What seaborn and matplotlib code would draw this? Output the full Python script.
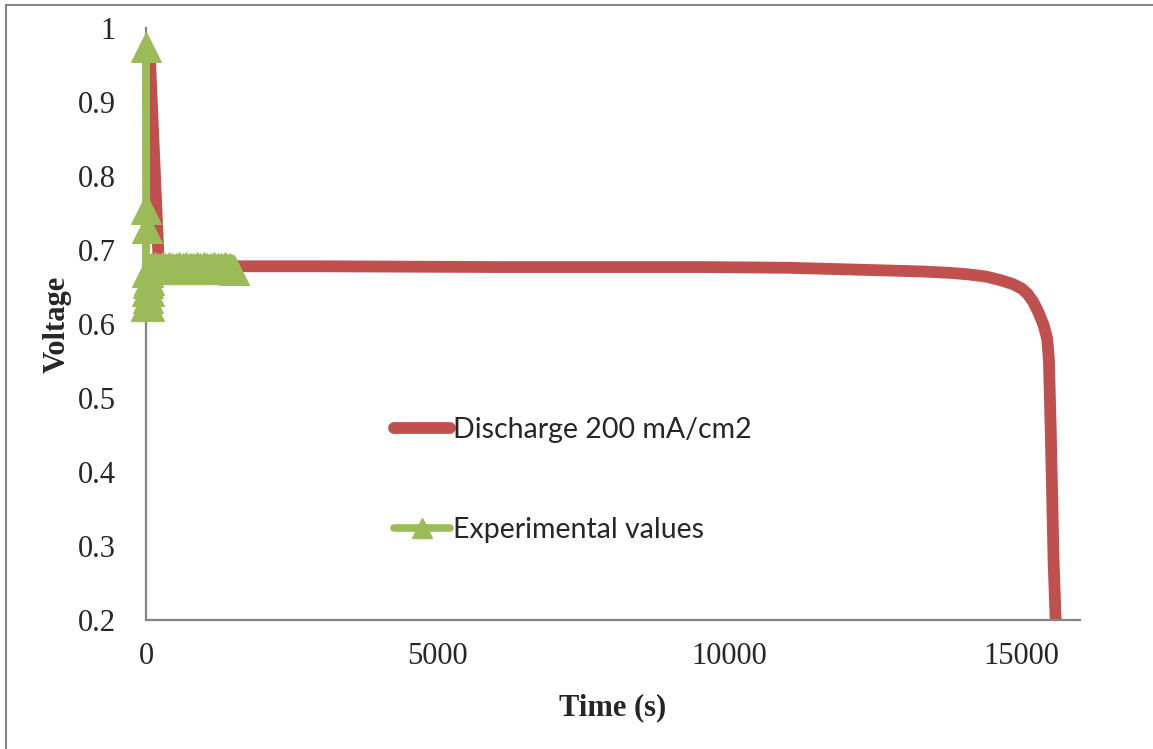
# Discharge curve vs experimental values

import numpy as np
import pandas as pd
import matplotlib
matplotlib.use('Agg')
import matplotlib.pyplot as plt
import seaborn as sns
from matplotlib.lines import Line2D

# Data

red_time = [70, 220, 1000, 3000, 6000, 9500, 11000, 12400, 13300, 13800, 14100, 14400,
            14650, 14850, 15000, 15100, 15200, 15300, 15380, 15440, 15470, 15500,
            15550, 15585]
red_volt = [0.955, 0.68, 0.678, 0.678, 0.677, 0.677, 0.676, 0.673, 0.671, 0.669, 0.667,
            0.664, 0.659, 0.654, 0.648, 0.641, 0.630, 0.614, 0.598, 0.580, 0.55, 0.457,
            0.277, 0.2]

exp_time = [0, 0, 5, 5, 10, 10, 15, 20, 25, 30, 35, 40, 45, 50, 55, 60,
            90, 120, 150, 180, 210, 240, 270, 300, 330, 360, 390, 420, 450, 480,
            510, 540, 570, 600, 630, 660, 690, 720, 750, 780, 810, 840, 870, 900,
            930, 960, 990, 1020, 1050, 1080, 1110, 1140, 1170, 1200, 1230, 1260,
            1290, 1320, 1350, 1380, 1410, 1440, 1470, 1500]
exp_volt = [0.625, 0.975, 0.625, 0.755, 0.625, 0.73, 0.645, 0.67, 0.625, 0.655, 0.635,
            0.67, 0.645, 0.625, 0.66, 0.675,
            0.676, 0.674, 0.677, 0.675, 0.676, 0.674, 0.677, 0.675, 0.676, 0.674,
            0.677, 0.675, 0.676, 0.674, 0.676, 0.675, 0.677, 0.674, 0.676, 0.675,
            0.677, 0.674, 0.676, 0.675, 0.676, 0.674, 0.677, 0.675, 0.676, 0.674,
            0.677, 0.675, 0.676, 0.674, 0.676, 0.675, 0.677, 0.674, 0.676, 0.675,
            0.676, 0.674, 0.677, 0.675, 0.674, 0.676, 0.674, 0.673]

red = '#C0504D'
green = '#9BBB59'
grey = '#868686'

df_red = pd.DataFrame({'Time': red_time, 'Voltage': red_volt})
df_exp = pd.DataFrame({'Time': exp_time, 'Voltage': exp_volt})

sns.set_style('white')
plt.rcParams['font.family'] = ['Liberation Serif', 'DejaVu Serif']

fig = plt.figure(figsize=(11.53, 7.49), dpi=100)
ax = fig.add_axes([0.1266, 0.1722, 0.81, 0.7904])

sns.lineplot(data=df_red, x='Time', y='Voltage', ax=ax, color=red, linewidth=8.5,
             sort=False, estimator=None, solid_capstyle='butt', solid_joinstyle='round')
sns.lineplot(data=df_exp, x='Time', y='Voltage', ax=ax, color=green, linewidth=5,
             sort=False, estimator=None, marker='^', markersize=21,
             markeredgecolor=green, markerfacecolor=green, clip_on=False, zorder=3)

ax.set_xlim(0, 16000)
ax.set_ylim(0.2, 1.0)
ax.set_xticks([0, 5000, 10000, 15000])
ax.set_yticks([0.2, 0.3, 0.4, 0.5, 0.6, 0.7, 0.8, 0.9, 1.0])
ax.set_yticklabels(['0.2', '0.3', '0.4', '0.5', '0.6', '0.7', '0.8', '0.9', '1'])
ax.tick_params(axis='both', length=0, labelsize=22)
ax.tick_params(axis='y', pad=22)
ax.tick_params(axis='x', pad=16)

for side in ['top', 'right']:
    ax.spines[side].set_visible(False)
for side in ['left', 'bottom']:
    ax.spines[side].set_color(grey)
    ax.spines[side].set_linewidth(1.6)

ax.set_xlabel('Time (s)', fontsize=22, fontweight='bold', labelpad=16)
ax.set_ylabel('Voltage', fontsize=22, fontweight='bold', labelpad=4)

handles = [Line2D([], [], color=red, linewidth=8.5, solid_capstyle='round'),
           Line2D([], [], color=green, linewidth=5.5, marker='^', markersize=14,
                  solid_capstyle='round')]
leg = ax.legend(handles, ['Discharge 200 mA/cm2', 'Experimental values'],
                loc='upper left', bbox_to_anchor=(0.2536, 0.362), frameon=False,
                prop={'family': 'Lato', 'size': 20.5}, handlelength=1.95,
                handletextpad=0.12, labelspacing=2.6, borderaxespad=0)

# outer frame lines (top and left only are visible)
fig.add_artist(Line2D([6 / 1153, 1], [1 - 5 / 749, 1 - 5 / 749],
                      transform=fig.transFigure, color=grey, linewidth=1.5))
fig.add_artist(Line2D([6 / 1153, 6 / 1153], [0, 1 - 5 / 749],
                      transform=fig.transFigure, color=grey, linewidth=1.5))

fig.savefig('out.png', dpi=100)
